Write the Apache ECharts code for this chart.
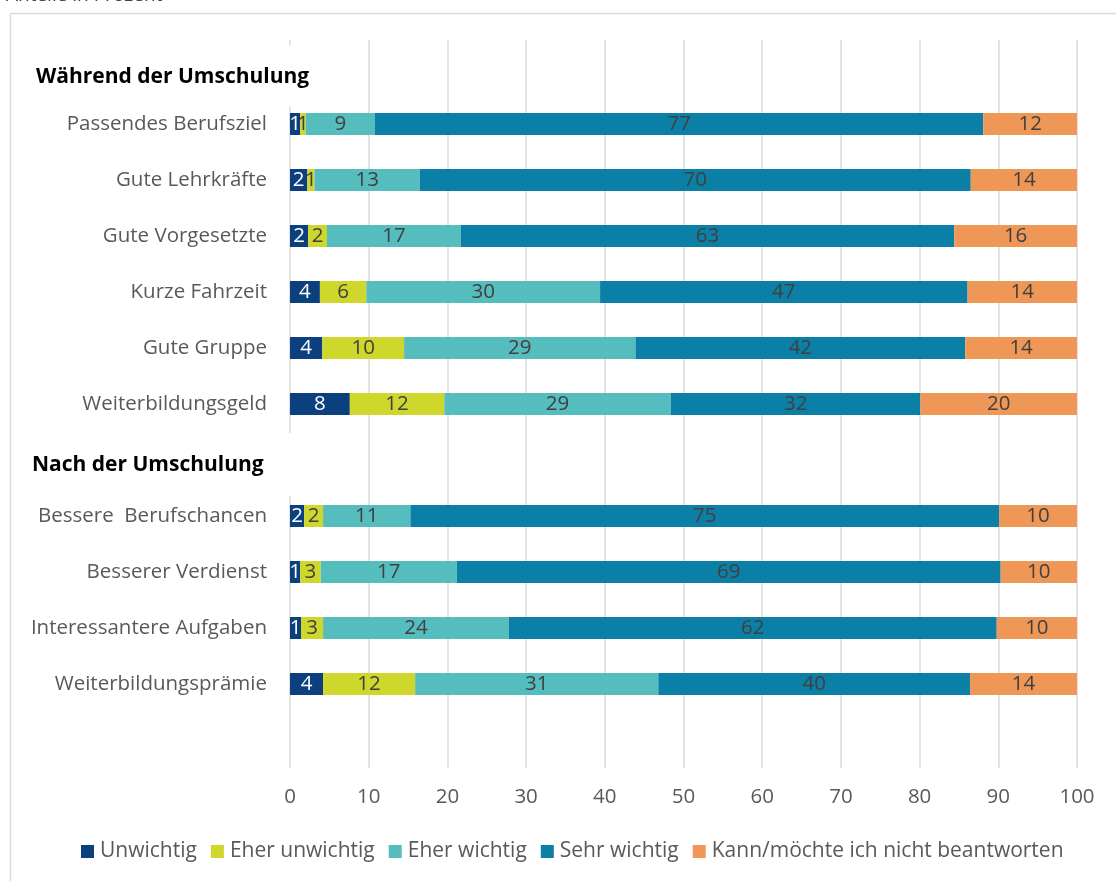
<!DOCTYPE html>
<html><head><meta charset="utf-8">
<script src="https://cdn.jsdelivr.net/npm/echarts@6/dist/echarts.min.js"></script>
<style>html,body{margin:0;padding:0;background:#fff}#c{width:1116px;height:881px}</style>
</head><body><div id="c"></div>
<script>
const categories = ['H1','Passendes Berufsziel','Gute Lehrkräfte','Gute Vorgesetzte','Kurze Fahrzeit','Gute Gruppe','Weiterbildungsgeld','H2','Bessere  Berufschancen','Besserer Verdienst','Interessantere Aufgaben','Weiterbildungsprämie','END'];
const headers = ['Während der Umschulung','Nach der Umschulung'];
const seriesNames = ['Unwichtig','Eher unwichtig','Eher wichtig','Sehr wichtig','Kann/möchte ich nicht beantworten'];
const unwichtig     = [null,1.3,2.2,2.3,3.8,4.1,7.6,null,1.8,1.3,1.4,4.2,null];
const eherUnwichtig = [null,0.7,0.9,2.4,5.9,10.4,12.0,null,2.4,2.6,2.8,11.7,null];
const eherWichtig   = [null,8.8,13.4,17.0,29.7,29.4,28.8,null,11.1,17.3,23.6,30.9,null];
const sehrWichtig   = [null,77.3,70.0,62.7,46.7,41.9,31.7,null,74.8,69.1,62.0,39.6,null];
const keineAngabe   = [null,12.1,13.5,15.6,13.9,14.2,19.9,null,9.9,9.7,10.2,13.6,null];
const xTicks = [0,10,20,30,40,50,60,70,80,90,100];

const colors = ['#0b3f7e','#cfd62c','#56bdbf','#0c7fa6','#ef9757'];
const labelColors = ['#ffffff','#404040','#404040','#404040','#404040'];
const values = [unwichtig, eherUnwichtig, eherWichtig, sehrWichtig, keineAngabe];
const FONT = 'Open Sans';
const FS = 20.5;

const chart = echarts.init(document.getElementById('c'));
chart.setOption({
  animation:false,
  textStyle:{fontFamily:FONT},
  color:colors,
  grid:{left:290,right:39,top:40,bottom:113,containLabel:false},
  xAxis:{type:'value',min:0,max:100,interval:10,
    axisLine:{show:false},axisTick:{show:false},
    axisLabel:{color:'#595959',fontSize:FS,margin:19,fontFamily:FONT,
      formatter:v=>xTicks.includes(v)?String(v):''},
    splitLine:{show:true,lineStyle:{color:'#d9d9d9',width:1.5}}},
  yAxis:{type:'category',inverse:true,data:categories,
    axisLine:{show:false},axisTick:{show:false},
    axisLabel:{color:'#595959',fontSize:FS,margin:23,fontFamily:FONT,
      formatter:v=>(v==='H1'||v==='H2'||v==='END')?'':v}},
  legend:{bottom:14,left:76,icon:'rect',itemWidth:13,itemHeight:13,itemGap:14,
    textStyle:{color:'#595959',fontSize:21,fontFamily:FONT,padding:[0,0,0,1]},
    data:seriesNames},
  graphic:[
    {type:'rect',left:8,top:11,shape:{width:1200,height:1000},style:{fill:'none',stroke:'#d9d9d9',lineWidth:1.5},z:-1,silent:true},
    {type:'text',x:6,y:5,style:{text:'Anteile in Prozent',fill:'#404040',font:'19px "'+FONT+'"',textVerticalAlign:'bottom',verticalAlign:'bottom'},z:60},
    {type:'rect',left:284,top:45,shape:{width:12,height:62},style:{fill:'#fff'},z:50},
    {type:'rect',left:284,top:433,shape:{width:12,height:63},style:{fill:'#fff'},z:50},
    {type:'text',left:36,top:67,style:{text:headers[0],fill:'#000',font:'bold 21px "'+FONT+'"'},z:60},
    {type:'text',left:32,top:455,style:{text:headers[1],fill:'#000',font:'bold 21px "'+FONT+'"'},z:60}
  ],
  series: seriesNames.map((n,i)=>({
    name:n,type:'bar',stack:'s',barWidth:22,data:values[i],
    itemStyle:{color:colors[i]},
    label:{show:true,position:'inside',color:labelColors[i],fontSize:FS,fontFamily:FONT,
      formatter:p=>p.value==null?'':String(Math.round(p.value))}
  }))
});
</script></body></html>
